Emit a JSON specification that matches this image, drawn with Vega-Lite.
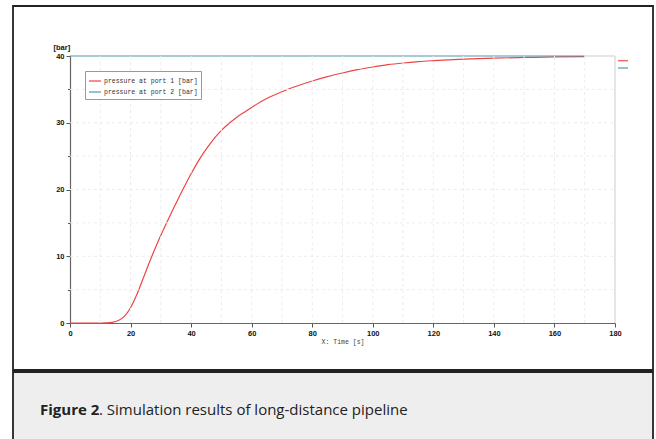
{
  "$schema": "https://vega.github.io/schema/vega-lite/v6.json",
  "background": "white",
  "padding": {"left": 12, "top": 5, "right": 3, "bottom": 0},
  "spacing": 0,
  "config": {"view": {"stroke": null}, "font": "Liberation Sans"},
  "vconcat": [
    {
      "width": 640,
      "height": 364,
      "view": {"fill": "white", "stroke": "#222222", "strokeWidth": 1.8},
      "layer": [
        {
          "data": {"values": [
            {"t": 0, "p": 0, "series": "pressure at port 1 [bar]"},
            {"t": 10, "p": 0, "series": "pressure at port 1 [bar]"},
            {"t": 12, "p": 0.02, "series": "pressure at port 1 [bar]"},
            {"t": 14, "p": 0.1, "series": "pressure at port 1 [bar]"},
            {"t": 16, "p": 0.38, "series": "pressure at port 1 [bar]"},
            {"t": 18, "p": 1.03, "series": "pressure at port 1 [bar]"},
            {"t": 20, "p": 2.28, "series": "pressure at port 1 [bar]"},
            {"t": 22, "p": 4.18, "series": "pressure at port 1 [bar]"},
            {"t": 24, "p": 6.48, "series": "pressure at port 1 [bar]"},
            {"t": 26, "p": 8.83, "series": "pressure at port 1 [bar]"},
            {"t": 28, "p": 11.06, "series": "pressure at port 1 [bar]"},
            {"t": 30, "p": 13.14, "series": "pressure at port 1 [bar]"},
            {"t": 32, "p": 15.1, "series": "pressure at port 1 [bar]"},
            {"t": 34, "p": 17.0, "series": "pressure at port 1 [bar]"},
            {"t": 36, "p": 18.85, "series": "pressure at port 1 [bar]"},
            {"t": 38, "p": 20.65, "series": "pressure at port 1 [bar]"},
            {"t": 40, "p": 22.35, "series": "pressure at port 1 [bar]"},
            {"t": 42, "p": 23.95, "series": "pressure at port 1 [bar]"},
            {"t": 44, "p": 25.4, "series": "pressure at port 1 [bar]"},
            {"t": 46, "p": 26.7, "series": "pressure at port 1 [bar]"},
            {"t": 48, "p": 27.85, "series": "pressure at port 1 [bar]"},
            {"t": 50, "p": 28.85, "series": "pressure at port 1 [bar]"},
            {"t": 52, "p": 29.7, "series": "pressure at port 1 [bar]"},
            {"t": 55, "p": 30.8, "series": "pressure at port 1 [bar]"},
            {"t": 58, "p": 31.7, "series": "pressure at port 1 [bar]"},
            {"t": 60, "p": 32.3, "series": "pressure at port 1 [bar]"},
            {"t": 63, "p": 33.15, "series": "pressure at port 1 [bar]"},
            {"t": 66, "p": 33.85, "series": "pressure at port 1 [bar]"},
            {"t": 70, "p": 34.65, "series": "pressure at port 1 [bar]"},
            {"t": 75, "p": 35.5, "series": "pressure at port 1 [bar]"},
            {"t": 80, "p": 36.25, "series": "pressure at port 1 [bar]"},
            {"t": 85, "p": 36.9, "series": "pressure at port 1 [bar]"},
            {"t": 90, "p": 37.45, "series": "pressure at port 1 [bar]"},
            {"t": 95, "p": 37.95, "series": "pressure at port 1 [bar]"},
            {"t": 100, "p": 38.35, "series": "pressure at port 1 [bar]"},
            {"t": 105, "p": 38.7, "series": "pressure at port 1 [bar]"},
            {"t": 110, "p": 38.95, "series": "pressure at port 1 [bar]"},
            {"t": 115, "p": 39.15, "series": "pressure at port 1 [bar]"},
            {"t": 120, "p": 39.3, "series": "pressure at port 1 [bar]"},
            {"t": 125, "p": 39.43, "series": "pressure at port 1 [bar]"},
            {"t": 130, "p": 39.53, "series": "pressure at port 1 [bar]"},
            {"t": 140, "p": 39.68, "series": "pressure at port 1 [bar]"},
            {"t": 150, "p": 39.78, "series": "pressure at port 1 [bar]"},
            {"t": 160, "p": 39.86, "series": "pressure at port 1 [bar]"},
            {"t": 170, "p": 39.92, "series": "pressure at port 1 [bar]"},
            {"t": 0, "p": 40, "series": "pressure at port 2 [bar]"},
            {"t": 50, "p": 40, "series": "pressure at port 2 [bar]"},
            {"t": 100, "p": 40, "series": "pressure at port 2 [bar]"},
            {"t": 170, "p": 40, "series": "pressure at port 2 [bar]"}
          ]},
          "mark": {"type": "line", "strokeWidth": 1.2, "interpolate": "monotone"},
          "encoding": {
            "x": {
              "field": "t", "type": "quantitative",
              "scale": {"domain": [0, 180], "range": [57, 602], "nice": false, "zero": false},
              "axis": {
                "orient": "bottom", "offset": -47,
                "values": [0, 10, 20, 30, 40, 50, 60, 70, 80, 90, 100, 110, 120, 130, 140, 150, 160, 170, 180],
                "labelExpr": "datum.value % 20 === 0 ? datum.label : ''",
                "format": "d",
                "labelFont": "Liberation Sans", "labelFontSize": 7.5, "labelFontWeight": "bold", "labelColor": "#111111",
                "labelPadding": 2, "labelFlush": false, "labelOverlap": false,
                "tickSize": {"condition": {"test": "datum.value % 20 === 0", "value": 4}, "value": 2.5},
                "tickColor": "#555555", "tickWidth": 1,
                "domainColor": "#666666", "domainWidth": 1.2, "grid": false,
                "title": "X: Time [s]", "titleFont": "Liberation Mono", "titleFontSize": 6.5, "titleFontWeight": "normal",
                "titleColor": "#444444", "titleY": 18, "titleBaseline": "middle"
              }
            },
            "y": {
              "field": "p", "type": "quantitative",
              "scale": {"domain": [0, 40], "range": [317, 50], "nice": false, "zero": false},
              "axis": {
                "orient": "left", "offset": -57,
                "values": [0, 5, 10, 15, 20, 25, 30, 35, 40],
                "labelExpr": "datum.value % 10 === 0 ? datum.label : ''",
                "format": "d",
                "labelFont": "Liberation Sans", "labelFontSize": 7.5, "labelFontWeight": "bold", "labelColor": "#111111",
                "labelPadding": 2, "labelFlush": false, "labelOverlap": false,
                "tickSize": {"condition": {"test": "datum.value % 10 === 0", "value": 4}, "value": 2.5},
                "tickColor": "#555555", "tickWidth": 1,
                "domainColor": "#666666", "domainWidth": 1.2, "grid": false,
                "title": "[bar]", "titleAngle": 0, "titleAlign": "left", "titleBaseline": "middle",
                "titleX": -17, "titleY": 41, "titleFont": "Liberation Sans", "titleFontSize": 7.5, "titleFontWeight": "bold", "titleColor": "#111111"
              }
            },
            "color": {
              "field": "series", "type": "nominal",
              "scale": {"domain": ["pressure at port 1 [bar]", "pressure at port 2 [bar]"], "range": ["#ee4444", "#4f98b0"]},
              "legend": {
                "orient": "none", "legendX": 72, "legendY": 65, "title": null,
                "symbolType": "stroke", "symbolSize": 144, "symbolStrokeWidth": 1.2,
                "labelFont": "Liberation Mono", "labelFontSize": 6.5, "labelColor": "#333333", "labelOffset": 2,
                "padding": 3, "rowPadding": -1.5, "strokeColor": "#999999", "fillColor": "white"
              }
            }
          }
        },
        {
          "data": {"values": [{"gx": 10}, {"gx": 20}, {"gx": 30}, {"gx": 40}, {"gx": 50}, {"gx": 60}, {"gx": 70}, {"gx": 80}, {"gx": 90}, {"gx": 100}, {"gx": 110}, {"gx": 120}, {"gx": 130}, {"gx": 140}, {"gx": 150}, {"gx": 160}, {"gx": 170}]},
          "mark": {"type": "rule", "color": "#ececec", "strokeWidth": 1, "strokeDash": [3, 3]},
          "encoding": {
            "x": {"field": "gx", "type": "quantitative", "scale": {"domain": [0, 180], "range": [57, 602], "nice": false, "zero": false}},
            "y": {"datum": 0, "type": "quantitative", "scale": {"domain": [0, 40], "range": [317, 50], "nice": false, "zero": false}},
            "y2": {"datum": 40}
          }
        },
        {
          "data": {"values": [{"gy": 5}, {"gy": 10}, {"gy": 15}, {"gy": 20}, {"gy": 25}, {"gy": 30}, {"gy": 35}]},
          "mark": {"type": "rule", "color": "#ececec", "strokeWidth": 1, "strokeDash": [3, 3]},
          "encoding": {
            "y": {"field": "gy", "type": "quantitative", "scale": {"domain": [0, 40], "range": [317, 50], "nice": false, "zero": false}},
            "x": {"datum": 0, "type": "quantitative", "scale": {"domain": [0, 180], "range": [57, 602], "nice": false, "zero": false}},
            "x2": {"datum": 180}
          }
        },
        {
          "data": {"values": [{}]},
          "mark": {"type": "rule", "color": "#dcdcdc", "strokeWidth": 1.5},
          "encoding": {
            "x": {"datum": 180, "type": "quantitative"},
            "y": {"datum": 0, "type": "quantitative"},
            "y2": {"datum": 40}
          }
        },
        {
          "data": {"values": [{}]},
          "mark": {"type": "rule", "color": "#dcdcdc", "strokeWidth": 1.5},
          "encoding": {
            "y": {"datum": 40, "type": "quantitative"},
            "x": {"datum": 170, "type": "quantitative"},
            "x2": {"datum": 180}
          }
        },
        {
          "data": {"values": [{}]},
          "mark": {"type": "rule", "color": "#ee4444", "strokeWidth": 1.5, "opacity": 0.8},
          "encoding": {
            "x": {"datum": 181, "type": "quantitative"},
            "x2": {"datum": 184.3},
            "y": {"datum": 39.3, "type": "quantitative"}
          }
        },
        {
          "data": {"values": [{}]},
          "mark": {"type": "rule", "color": "#4f98b0", "strokeWidth": 1.5, "opacity": 0.8},
          "encoding": {
            "x": {"datum": 181, "type": "quantitative"},
            "x2": {"datum": 184.3},
            "y": {"datum": 38.2, "type": "quantitative"}
          }
        }
      ]
    },
    {
      "width": 640,
      "height": 69,
      "view": {"fill": "#eeeeee", "stroke": "#222222", "strokeWidth": 1.8},
      "layer": [
        {
          "data": {"values": [{"part": "Figure 2"}]},
          "mark": {"type": "text", "align": "left", "baseline": "middle", "font": "Open Sans", "fontSize": 15, "fontWeight": "bold", "color": "#222222", "dy": 3},
          "encoding": {
            "x": {"field": "part", "type": "nominal", "axis": null, "scale": {"type": "point", "domain": ["Figure 2", ". Simulation results of long-distance pipeline"], "range": [27, 86], "padding": 0}},
            "text": {"field": "part"}
          }
        },
        {
          "data": {"values": [{"part": ". Simulation results of long-distance pipeline"}]},
          "mark": {"type": "text", "align": "left", "baseline": "middle", "font": "Open Sans", "fontSize": 15, "fontWeight": "normal", "color": "#222222", "dy": 3},
          "encoding": {
            "x": {"field": "part", "type": "nominal", "axis": null, "scale": {"type": "point", "domain": ["Figure 2", ". Simulation results of long-distance pipeline"], "range": [27, 86], "padding": 0}},
            "text": {"field": "part"}
          }
        }
      ]
    }
  ]
}
